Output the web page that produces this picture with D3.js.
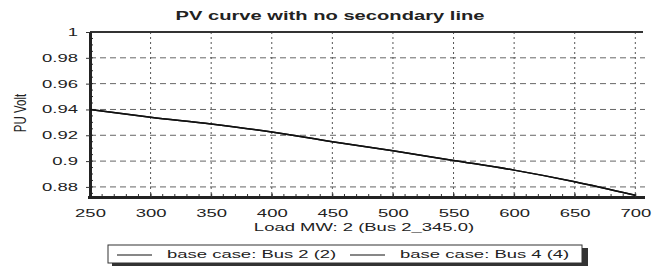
<!DOCTYPE html>
<html>
<head>
<meta charset="utf-8">
<script src="https://cdn.jsdelivr.net/npm/d3@7"></script>
<style>
  body { margin: 0; background: #fff; }
  text { font-family: Arial, "Liberation Sans", sans-serif; fill: #222; }
</style>
</head>
<body>
<svg id="chart"></svg>
<script>
var loadMW = [250, 300, 350, 400, 450, 500, 550, 600, 650, 700];
var bus2Volt = [0.940, 0.934, 0.9287, 0.9225, 0.915, 0.908, 0.9005, 0.893, 0.884, 0.8735];
var bus4Volt = [0.940, 0.934, 0.9287, 0.9225, 0.915, 0.908, 0.9005, 0.893, 0.884, 0.8735];
var xTicks = [250, 300, 350, 400, 450, 500, 550, 600, 650, 700];
var yTicks = [0.88, 0.9, 0.92, 0.94, 0.96, 0.98, 1];
var seriesNames = ["base case: Bus 2 (2)", "base case: Bus 4 (4)"];

var width = 667, height = 269;
var k = 1.68; // the picture is stretched sideways

var svg = d3.select("#chart").attr("width", width).attr("height", height);

var x = d3.scaleLinear().domain([250, 708]).range([90, 645]);
var y = d3.scaleLinear().domain([0.8718, 1]).range([197.5, 32]);

function stretch(sel) {
  sel.each(function() {
    var t = d3.select(this);
    var tx = +t.attr("x") || 0;
    t.attr("x", tx / k)
     .attr("transform", (t.attr("transform") || "") + " scale(" + k + ",1)");
  });
}

// grid
svg.append("g").selectAll("line").data(yTicks.filter(function(d) { return d < 1; }))
  .join("line")
  .attr("x1", x(250)).attr("x2", x(708))
  .attr("y1", function(d) { return y(d); }).attr("y2", function(d) { return y(d); })
  .attr("stroke", "#666").attr("stroke-width", 1).attr("stroke-dasharray", "6,4");

svg.append("g").selectAll("line").data(xTicks.slice(1))
  .join("line")
  .attr("x1", function(d) { return x(d); }).attr("x2", function(d) { return x(d); })
  .attr("y1", y(1)).attr("y2", y(0.8718))
  .attr("stroke", "#555").attr("stroke-width", 1).attr("stroke-dasharray", "2,3");

// top border
svg.append("line")
  .attr("x1", x(250)).attr("x2", 643).attr("y1", y(1)).attr("y2", y(1))
  .attr("stroke", "#333").attr("stroke-width", 2);

// minor ticks
var minorX = d3.range(260, 708, 10);
svg.append("g").selectAll("line").data(minorX).join("line")
  .attr("x1", function(d) { return x(d); }).attr("x2", function(d) { return x(d); })
  .attr("y1", 197.5).attr("y2", 194)
  .attr("stroke", "#333");
var minorY = d3.range(0.875, 1, 0.005);
svg.append("g").selectAll("line").data(minorY).join("line")
  .attr("x1", 90).attr("x2", 93)
  .attr("y1", function(d) { return y(d); }).attr("y2", function(d) { return y(d); })
  .attr("stroke", "#333");

// axes
var xAxis = svg.append("g").attr("transform", "translate(0,197.5)")
  .call(d3.axisBottom(x).tickValues(xTicks).tickSizeInner(-4).tickSizeOuter(0).tickPadding(12));
var yAxis = svg.append("g").attr("transform", "translate(90,0)")
  .call(d3.axisLeft(y).tickValues(yTicks).tickSize(4).tickSizeOuter(0).tickPadding(8)
    .tickFormat(function(d) { return d3.format("")(+d.toFixed(2)); }));

[xAxis, yAxis].forEach(function(a) {
  a.select(".domain").attr("stroke", "#222").attr("stroke-width", 3);
  a.selectAll(".tick line").attr("stroke", "#333");
  a.selectAll(".tick text").attr("font-size", 11).attr("fill", "#222")
    .attr("font-family", "Arial, 'Liberation Sans', sans-serif");
  stretch(a.selectAll(".tick text"));
});
xAxis.select(".domain").attr("d", "M88,0H645");

// curves
var line = d3.line()
  .x(function(d) { return x(d[0]); })
  .y(function(d) { return y(d[1]); })
  .curve(d3.curveMonotoneX);

[bus4Volt, bus2Volt].forEach(function(v) {
  svg.append("path")
    .datum(loadMW.map(function(m, i) { return [m, v[i]]; }))
    .attr("fill", "none").attr("stroke", "#111").attr("stroke-width", 1.5)
    .attr("d", line);
});

// title and labels
var title = svg.append("text").attr("x", 330).attr("y", 20)
  .attr("text-anchor", "middle").attr("font-size", 12).attr("font-weight", "bold")
  .text("PV curve with no secondary line");
stretch(title);

var xLabel = svg.append("text").attr("x", 364).attr("y", 231)
  .attr("text-anchor", "middle").attr("font-size", 11)
  .text("Load MW: 2 (Bus 2_345.0)");
stretch(xLabel);

svg.append("text")
  .attr("transform", "translate(26,113) scale(1.45,1) rotate(-90)")
  .attr("text-anchor", "middle").attr("font-size", 11.5)
  .text("PU Volt");

// legend
var lg = svg.append("g");
lg.append("rect").attr("x", 112).attr("y", 248).attr("width", 476).attr("height", 18).attr("fill", "#333");
lg.append("rect").attr("x", 108).attr("y", 245).attr("width", 474).attr("height", 18)
  .attr("fill", "#fff").attr("stroke", "#333").attr("stroke-width", 1);

var legendX = [117, 350];
seriesNames.forEach(function(name, i) {
  lg.append("line")
    .attr("x1", legendX[i]).attr("x2", legendX[i] + 35)
    .attr("y1", 255).attr("y2", 255)
    .attr("stroke", "#111").attr("stroke-width", 1.2);
  var t = lg.append("text").attr("x", legendX[i] + 50).attr("y", 258.5)
    .attr("font-size", 11).text(name);
  stretch(t);
});
</script>
</body>
</html>
